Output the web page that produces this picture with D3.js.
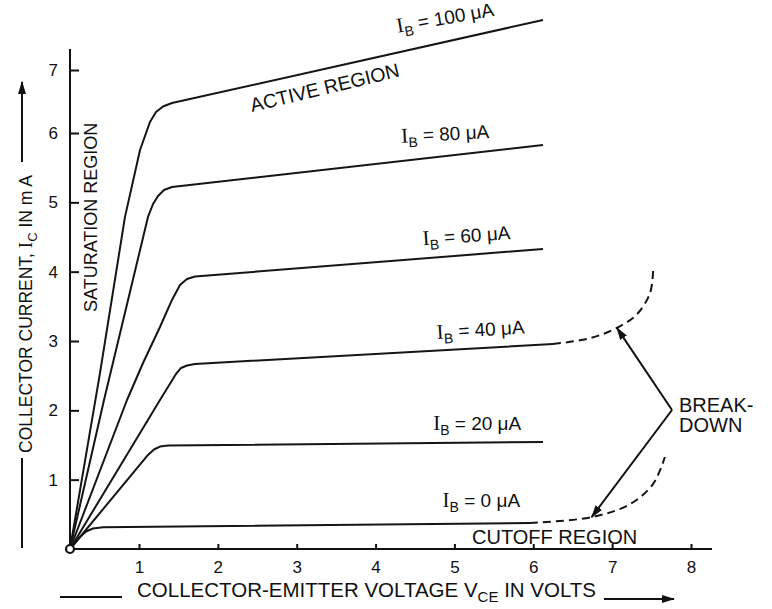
<!DOCTYPE html>
<html>
<head>
<meta charset="utf-8">
<script src="https://cdn.jsdelivr.net/npm/d3@7"></script>
<style>
  body { margin: 0; background: #fff; }
  svg text { font-family: "Liberation Sans", Arial, sans-serif; fill: #111; }
  .serif { font-family: "Liberation Serif", "Times New Roman", serif; }
</style>
</head>
<body>
<div id="chart"></div>
<script>
// Set up SVG size
var svgWidth = 772;
var svgHeight = 609;

// tick values
var xTicks = [1, 2, 3, 4, 5, 6, 7, 8];
var yTicks = [1, 2, 3, 4, 5, 6, 7];

// base current of each curve (uA)
var baseCurrents = [100, 80, 60, 40, 20, 0];

// curve points: [VCE (V), IC (mA)]
var ib100 = [[0, 0], [0.435, 2.54], [0.797, 4.79], [1.013, 5.755], [1.139, 6.175], [1.216, 6.333], [1.304, 6.421], [1.418, 6.476], [6.123, 7.794]];
var ib80 = [[0, 0], [0.493, 2.149], [1.114, 4.789], [1.178, 4.976], [1.241, 5.092], [1.317, 5.178], [1.418, 5.221], [6.123, 5.827]];
var ib60 = [[0, 0], [0.826, 2.149], [1.051, 2.683], [1.266, 3.202], [1.418, 3.592], [1.520, 3.808], [1.608, 3.894], [1.710, 3.930], [6.123, 4.327]];
var ib40 = [[0, 0], [1.266, 2.149], [1.469, 2.524], [1.533, 2.611], [1.609, 2.647], [1.710, 2.668], [6.250, 2.957]];
var ib20 = [[0, 0], [1.114, 1.356], [1.190, 1.435], [1.266, 1.478], [1.368, 1.493], [6.123, 1.543]];
var ib0 = [[0, 0], [0.145, 0.173], [0.232, 0.252], [0.333, 0.296], [0.478, 0.313], [5.958, 0.375]];

// breakdown parts (dashed)
var ib40Breakdown = [[6.25, 2.957], [6.72, 3.04], [7.06, 3.19], [7.31, 3.38], [7.48, 3.69], [7.52, 4.02]];
var ib0Breakdown = [[5.958, 0.375], [6.74, 0.46], [7.23, 0.65], [7.52, 0.94], [7.67, 1.33]];

var curves = [ib100, ib80, ib60, ib40, ib20, ib0];

// label anchors [VCE, IC, angle]
var labelSpots = [[4.28, 7.59, -10], [4.33, 5.86, -3], [4.60, 4.38, -4], [4.78, 3.03, -3.5], [4.73, 1.72, 0], [4.85, 0.61, 0]];

var svg = d3.select("#chart")
  .append("svg")
  .attr("width", svgWidth)
  .attr("height", svgHeight);

// the drawing's ticks are not evenly spaced, so use piecewise scales
var x = d3.scaleLinear().domain([0, 1, 8]).range([70, 139, 691]);
var y = d3.scaleLinear().domain([0, 6, 7]).range([549, 133, 70]);

// arrow heads
var defs = svg.append("defs");
defs.append("marker")
  .attr("id", "head")
  .attr("viewBox", "0 0 13 8")
  .attr("refX", 12)
  .attr("refY", 4)
  .attr("markerWidth", 13)
  .attr("markerHeight", 8)
  .attr("markerUnits", "userSpaceOnUse")
  .attr("orient", "auto")
  .append("path")
  .attr("d", "M0,0 L13,4 L0,8 Z")
  .attr("fill", "#111");

// axes
var xAxis = svg.append("g")
  .attr("transform", `translate(0, ${y(0)})`)
  .call(d3.axisBottom(x).tickValues(xTicks).tickSize(-5).tickPadding(12).tickFormat(d3.format("d")));

var yAxis = svg.append("g")
  .attr("transform", `translate(${x(0)}, 0)`)
  .call(d3.axisLeft(y).tickValues(yTicks).tickSize(-9).tickPadding(12).tickFormat(d3.format("d")));

[xAxis, yAxis].forEach(function(a) {
  a.select(".domain").remove();
  a.selectAll("line").attr("stroke", "#111").attr("stroke-width", 2);
  a.selectAll("text").style("font-size", "17px").style("font-family", "Liberation Sans, Arial, sans-serif").attr("fill", "#111");
});

// axis lines
svg.append("line")
  .attr("x1", x(0)).attr("y1", y(0))
  .attr("x2", 712).attr("y2", y(0))
  .attr("stroke", "#111").attr("stroke-width", 2);
svg.append("line")
  .attr("x1", x(0)).attr("y1", y(0))
  .attr("x2", x(0)).attr("y2", 49)
  .attr("stroke", "#111").attr("stroke-width", 2);

// solid curves: straight runs joined by closely read knee points
var line = d3.line()
  .x(d => x(d[0]))
  .y(d => y(d[1]))
  .curve(d3.curveLinear);

// dashed breakdown tails are smooth bends
var smooth = d3.line()
  .x(d => x(d[0]))
  .y(d => y(d[1]))
  .curve(d3.curveCatmullRom.alpha(0.5));

svg.selectAll(".ib")
  .data(curves)
  .enter()
  .append("path")
  .attr("class", "ib")
  .attr("d", line)
  .attr("fill", "none")
  .attr("stroke", "#151515")
  .attr("stroke-width", 2)
  .attr("stroke-linejoin", "round");

svg.selectAll(".bd")
  .data([ib40Breakdown, ib0Breakdown])
  .enter()
  .append("path")
  .attr("class", "bd")
  .attr("d", smooth)
  .attr("fill", "none")
  .attr("stroke", "#151515")
  .attr("stroke-width", 2)
  .attr("stroke-dasharray", "8,5");

// origin circle
svg.append("circle")
  .attr("cx", x(0)).attr("cy", y(0))
  .attr("r", 4)
  .attr("fill", "#fff")
  .attr("stroke", "#111")
  .attr("stroke-width", 2.2);

// curve labels
var labels = svg.selectAll(".iblabel")
  .data(baseCurrents)
  .enter()
  .append("text")
  .attr("class", "iblabel")
  .attr("transform", (d, i) => `translate(${x(labelSpots[i][0])}, ${y(labelSpots[i][1])}) rotate(${labelSpots[i][2]})`)
  .style("font-size", "19px");
labels.append("tspan").attr("class", "serif").style("font-size", "21px").text("I");
labels.append("tspan").attr("dy", 5).style("font-size", "14px").text("B");
labels.append("tspan").attr("dy", -5).text(d => ` = ${d} \u03bcA`);

// region labels
svg.append("text")
  .attr("transform", `translate(252, 112) rotate(-13.5)`)
  .style("font-size", "19.5px")
  .text("ACTIVE REGION");

svg.append("text")
  .attr("transform", `translate(97, 312) rotate(-90)`)
  .style("font-size", "18px")
  .text("SATURATION REGION");

svg.append("text")
  .attr("x", 472).attr("y", 544)
  .style("font-size", "20px")
  .text("CUTOFF REGION");

svg.append("text")
  .attr("x", 679).attr("y", 412)
  .style("font-size", "20px")
  .text("BREAK-");
svg.append("text")
  .attr("x", 679).attr("y", 432)
  .style("font-size", "20px")
  .text("DOWN");

// breakdown arrows
var vertex = [672, 410];
[[x(7.06), y(3.19)], [x(6.74), y(0.46)]].forEach(function(tip) {
  svg.append("line")
    .attr("x1", vertex[0]).attr("y1", vertex[1])
    .attr("x2", tip[0]).attr("y2", tip[1])
    .attr("stroke", "#111").attr("stroke-width", 2)
    .attr("marker-end", "url(#head)");
});

// x axis title
var xt = svg.append("text")
  .attr("x", 137).attr("y", 597)
  .style("font-size", "20.5px");
xt.append("tspan").text("COLLECTOR-EMITTER VOLTAGE V");
xt.append("tspan").attr("dy", 5).style("font-size", "15px").text("CE");
xt.append("tspan").attr("dy", -5).text(" IN VOLTS");

svg.append("line")
  .attr("x1", 60).attr("y1", 597).attr("x2", 122).attr("y2", 597)
  .attr("stroke", "#111").attr("stroke-width", 2);
svg.append("line")
  .attr("x1", 604).attr("y1", 599).attr("x2", 674).attr("y2", 599)
  .attr("stroke", "#111").attr("stroke-width", 2)
  .attr("marker-end", "url(#head)");

// y axis title
var yt = svg.append("text")
  .attr("transform", `translate(32, 453) rotate(-90)`)
  .style("font-size", "17.5px");
yt.append("tspan").text("COLLECTOR CURRENT, ");
yt.append("tspan").attr("class", "serif").style("font-size", "19px").text("I");
yt.append("tspan").attr("dy", 5).style("font-size", "13px").text("C");
yt.append("tspan").attr("dy", -5).text(" IN m A");

svg.append("line")
  .attr("x1", 22).attr("y1", 548).attr("x2", 22).attr("y2", 458)
  .attr("stroke", "#111").attr("stroke-width", 2);
svg.append("line")
  .attr("x1", 22).attr("y1", 162).attr("x2", 22).attr("y2", 82)
  .attr("stroke", "#111").attr("stroke-width", 2)
  .attr("marker-end", "url(#head)");
</script>
</body>
</html>
